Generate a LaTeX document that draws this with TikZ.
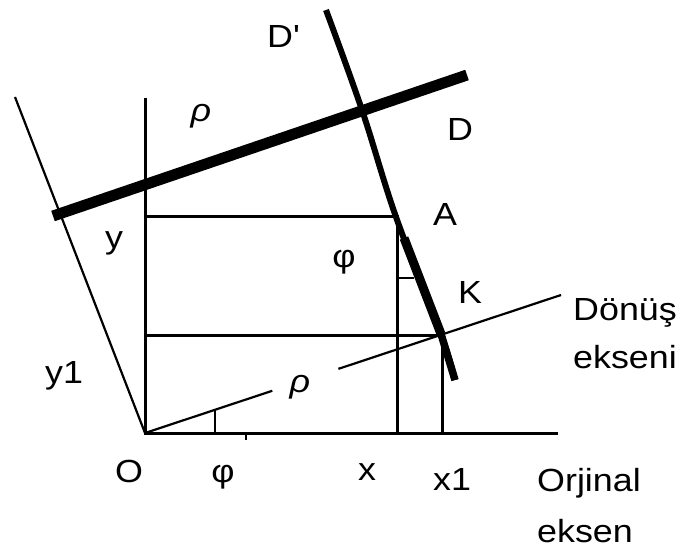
\documentclass[tikz,border=0pt]{standalone}
\usepackage{fontspec}
\setmainfont{Liberation Sans}[FakeStretch=1.12]
\usetikzlibrary{calc}
\begin{document}
\begin{tikzpicture}[x=1pt,y=-1pt,
  axisline/.style={line width=3pt},
  thinline/.style={line width=2.2pt},
  lbl/.style={font=\fontsize{32}{50}\selectfont, inner sep=0pt}]
\useasboundingbox (0,0) rectangle (682,550);
% named points
\coordinate (O) at (145,433);
\coordinate (Ytop) at (145,98);
\coordinate (Xend) at (558,433);
\coordinate (Y1top) at (15,97);
\coordinate (Rend) at (561,295);
\coordinate (Dl) at (53,216);
\coordinate (Dr) at (467,75);
\coordinate (A) at (397,216);
\coordinate (K) at (442,335);
\coordinate (Ay) at (145,216);
\coordinate (Ky) at (145,335);
\coordinate (Ax) at (397,433);
\coordinate (Kx) at (442,433);
\coordinate (R1) at ($(O)!0.306!(Rend)$);
\coordinate (R2) at ($(O)!0.465!(Rend)$);
\coordinate (P1) at ($(O)!0.169!(Rend)$);
\coordinate (P1b) at (P1 |- O);
\coordinate (Tk1) at (246,433);
\coordinate (Tk2) at (246,440);
\coordinate (T1) at (397,278);
\coordinate (T2) at (414,278);
\coordinate (C0) at (326,10);
\coordinate (C1) at (362,110);
\coordinate (C2) at (396,217);
\coordinate (C3) at (441,334);
\coordinate (C4) at (455,380);
\coordinate (Cth) at (404,238);
% axes
\draw[axisline] (Ytop) -- (O) -- (Xend);
\draw[axisline] (Ay) -- (A) -- (Ax);
\draw[axisline] (Ky) -- (K) -- (Kx);
\draw[thinline] (Y1top) -- (O);
\draw[thinline] (O) -- (R1);
\draw[thinline] (R2) -- (Rend);
\draw[thinline] (P1) -- (P1b);
\draw[thinline] (Tk1) -- (Tk2);
\draw[thinline] (T1) -- (T2);
% curve D'
\draw[line width=6pt] plot[smooth, tension=0.6] coordinates {(C0) (C1) (C2) (C3) (C4)};
\draw[line width=9pt] (Cth) -- (C3);
\draw[line width=7.5pt] (C3) -- (C4);
% line D
\draw[line width=11pt] (Dl) -- (Dr);
% labels
\node[lbl, anchor=base west] (lDp) at (267,47) {D\textquotesingle};
\node[lbl, anchor=center] (lrho1) at (201,116) {\itshape ρ};
\node[lbl, anchor=base west] (lD) at (447,140) {D};
\node[lbl, anchor=base west] (lA) at (433,225) {A};
\node[lbl, anchor=base west] (lK) at (458,303) {K};
\node[lbl, anchor=center] (lphi1) at (344,262) {φ};
\node[lbl, anchor=center] (ly) at (114,243) {y};
\node[lbl, anchor=base west] (ly1) at (45,383) {y1};
\node[lbl, anchor=center] (lrho2) at (300,387) {\itshape ρ};
\node[lbl, anchor=base] (lO) at (129,482) {O};
\node[lbl, anchor=center] (lphi2) at (223,477) {φ};
\node[lbl, anchor=base] (lx) at (367,480) {x};
\node[lbl, anchor=base west] (lx1) at (433,490) {x1};
\node[lbl, anchor=base west, align=left, font=\fontsize{32}{51}\selectfont] (lorj) at (537,542) {Orjinal\\eksen};
\node[lbl, anchor=base west, align=left, font=\fontsize{32}{48}\selectfont] (ldon) at (573,368) {Dönüş\\ekseni};
\end{tikzpicture}
\end{document}
